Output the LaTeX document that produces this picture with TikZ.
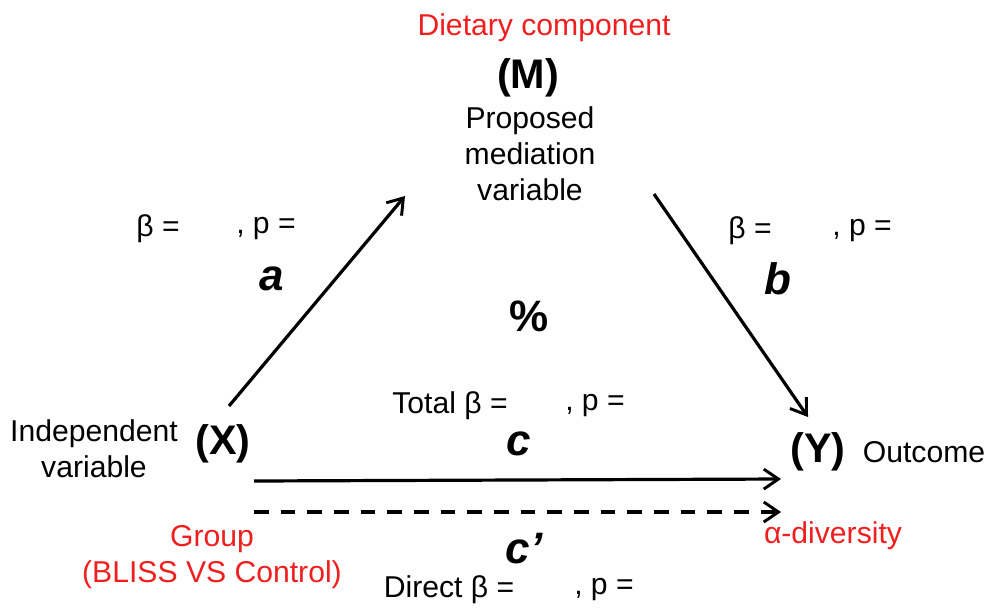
\documentclass[tikz,border=0pt]{standalone}
\usepackage{fontspec}
\setmainfont{Liberation Sans}
\usetikzlibrary{arrows.meta}
\definecolor{lblred}{RGB}{240,30,30}
\tikzset{
  txt/.style={inner sep=0pt, align=center, font=\fontsize{22.6}{27}\selectfont},
  rtxt/.style={txt, text=lblred},
  var/.style={inner sep=0pt, font=\fontsize{31}{36}\selectfont\bfseries},
  pathlbl/.style={inner sep=0pt, font=\fontsize{33}{38}\selectfont\bfseries\itshape},
  conn/.style={line width=2.4pt, -{Straight Barb[length=11pt,width=15pt,line width=2.2pt]}},
  dconn/.style={conn, dash pattern=on 11pt off 9pt},
}
\begin{document}
\begin{tikzpicture}[x=0.75pt,y=-0.75pt]
\useasboundingbox (0,0) rectangle (987,608);
% mediator
\node[rtxt] (diet) at (544,28) {Dietary component};
\node[var] (M) at (528,78) {(M)};
\node[txt] (med) at (530,154) {Proposed\\mediation\\variable};
% path a
\node[txt] (ab) at (158,229) {β =};
\node[txt] (ap) at (266,229) {, p =};
\node[pathlbl] (a) at (272,279) {a};
% path b
\node[txt] (bb) at (750,231) {β =};
\node[txt] (bp) at (862,231) {, p =};
\node[pathlbl] (b) at (778,279) {b};
% percent
\node[var, font=\fontsize{33}{38}\selectfont\bfseries] (pct) at (529,316) {\%};
% total
\node[txt] (tb) at (450,406) {Total β =};
\node[txt] (tp) at (595,406) {, p =};
\node[pathlbl] (c) at (519,444) {c};
% X
\node[txt] (ind) at (94,449) {Independent\\variable};
\node[var] (X) at (223,444) {(X)};
\node[rtxt] (grp) at (212,557) {Group\\(BLISS VS Control)};
% Y
\node[var] (Y) at (818,452) {(Y)};
\node[txt] (out) at (924,452) {Outcome};
\node[rtxt] (alpha) at (833,536) {α-diversity};
% direct
\node[pathlbl] (cp) at (524,549) {c’};
\node[txt] (db) at (449,590) {Direct β =};
\node[txt] (dp) at (604,590) {, p =};
% connectors
\coordinate (a0) at (229,406);
\coordinate (a1) at (405,196);
\coordinate (b0) at (654,194);
\coordinate (b1) at (808,417);
\coordinate (c0) at (254,481);
\coordinate (c1) at (781,479);
\coordinate (d0) at (254,512);
\coordinate (d1) at (781,512);
\draw[conn] (a0) -- (a1);
\draw[conn] (b0) -- (b1);
\draw[conn] (c0) -- (c1);
\draw[dconn] (d0) -- (d1);
\end{tikzpicture}
\end{document}
